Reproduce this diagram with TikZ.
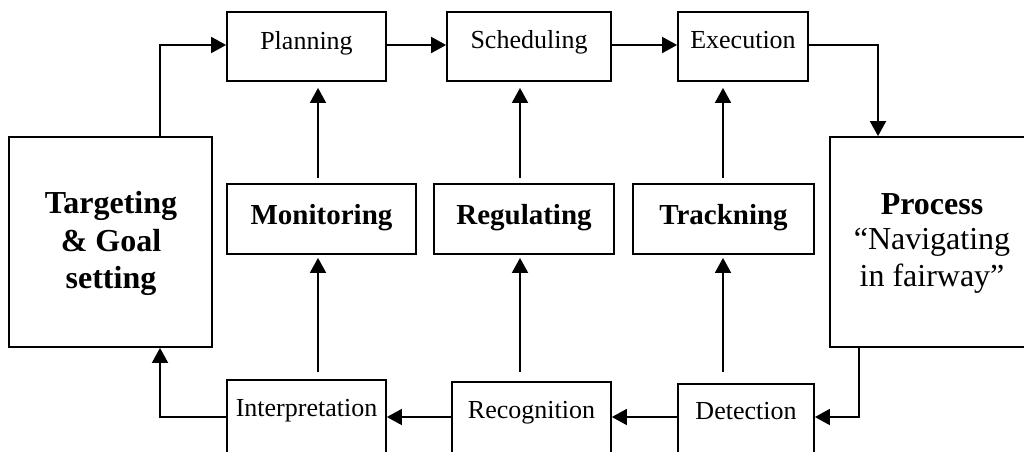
\documentclass[tikz,border=0pt]{standalone}
\usepackage{fontspec}
\setmainfont{Liberation Serif}
\usetikzlibrary{arrows.meta}
\begin{document}
\begin{tikzpicture}[x=1pt,y=-1pt,
  box/.style={draw, line width=1.8pt, rectangle, inner sep=0pt},
  lbl/.style={anchor=base, inner sep=0pt, font=\fontsize{26}{30}\selectfont},
  bold/.style={anchor=base, inner sep=0pt, font=\fontsize{29}{34}\selectfont\bfseries},
  big/.style={anchor=base, inner sep=0pt, font=\fontsize{32}{37}\selectfont},
  arr/.style={line width=1.8pt, -{Triangle[length=15pt,width=16pt]}},
  up/.style={arr, shorten <=6pt, shorten >=4pt}]
\clip (0,0) rectangle (1024,451);
\fill[white] (0,0) rectangle (1024,451);

% guide coordinates for connector rows and columns
\coordinate (r1) at (0,45);
\coordinate (r0) at (0,417);
\coordinate (c0) at (160,0);
\coordinate (c1) at (318,0);
\coordinate (c2) at (520,0);
\coordinate (c3) at (723,0);
\coordinate (c4) at (878,0);
\coordinate (c5) at (859,0);

% side boxes
\node[box, minimum width=203pt, minimum height=210pt] (tgt) at (110.5,242) {};
\node[box, minimum width=204pt, minimum height=210pt] (proc) at (932,242) {};

% top row
\node[box, minimum width=159pt, minimum height=69pt] (plan) at (306.5,46.5) {};
\node[box, minimum width=164pt, minimum height=69pt] (sched) at (529,46.5) {};
\node[box, minimum width=130pt, minimum height=69pt] (exe) at (743,46.5) {};

% middle row
\node[box, minimum width=189pt, minimum height=70pt] (mon) at (321.5,219) {};
\node[box, minimum width=180pt, minimum height=70pt] (reg) at (524,219) {};
\node[box, minimum width=181pt, minimum height=70pt] (trk) at (723.5,219) {};

% bottom row
\node[box, minimum width=159pt, minimum height=80pt] (int) at (306.5,420) {};
\node[box, minimum width=159pt, minimum height=80pt] (rec) at (531.5,422) {};
\node[box, minimum width=136pt, minimum height=80pt] (det) at (746,424) {};

% labels
\node[lbl] (tplan) at (306.5,49) {Planning};
\node[lbl] (tsched) at (529,48) {Scheduling};
\node[lbl] (texe) at (743,48) {Execution};
\node[bold] (tmon) at (321.5,224) {Monitoring};
\node[bold] (treg) at (524,224) {Regulating};
\node[bold] (ttrk) at (723.5,224) {Trackning};
\node[lbl] (tint) at (306.5,416) {Interpretation};
\node[lbl] (trec) at (531.5,418) {Recognition};
\node[lbl] (tdet) at (746,419) {Detection};
\node[big, font=\fontsize{32}{37}\selectfont\bfseries] (tg1) at (111,213) {Targeting};
\node[big, font=\fontsize{32}{37}\selectfont\bfseries] (tg2) at (111,251) {\& Goal};
\node[big, font=\fontsize{32}{37}\selectfont\bfseries] (tg3) at (111,288) {setting};
\node[big, font=\fontsize{32}{37}\selectfont\bfseries] (pr1) at (932,214) {Process};
\node[big] (pr2) at (932,249) {“Navigating};
\node[big] (pr3) at (932,286) {in fairway”};

% main loop
\draw[arr] (tgt.north -| c0) |- (plan.west |- r1);
\draw[arr] (plan.east |- r1) -- (sched.west |- r1);
\draw[arr] (sched.east |- r1) -- (exe.west |- r1);
\draw[arr] (exe.east |- r1) -| (proc.north -| c4);
\draw[arr] (proc.south -| c5) |- (det.east |- r0);
\draw[arr] (det.west |- r0) -- (rec.east |- r0);
\draw[arr] (rec.west |- r0) -- (int.east |- r0);
\draw[arr] (int.west |- r0) -| (tgt.south -| c0);

% upward links
\draw[up, shorten <=7pt, shorten >=3pt] (int.north -| c1) -- (mon.south -| c1);
\draw[up, shorten <=5pt, shorten >=6pt] (mon.north -| c1) -- (plan.south -| c1);
\draw[up, shorten <=9pt, shorten >=3pt] (rec.north -| c2) -- (reg.south -| c2);
\draw[up, shorten <=5pt, shorten >=6pt] (reg.north -| c2) -- (sched.south -| c2);
\draw[up, shorten <=11pt, shorten >=3pt] (det.north -| c3) -- (trk.south -| c3);
\draw[up, shorten <=5pt, shorten >=6pt] (trk.north -| c3) -- (exe.south -| c3);
\end{tikzpicture}
\end{document}
